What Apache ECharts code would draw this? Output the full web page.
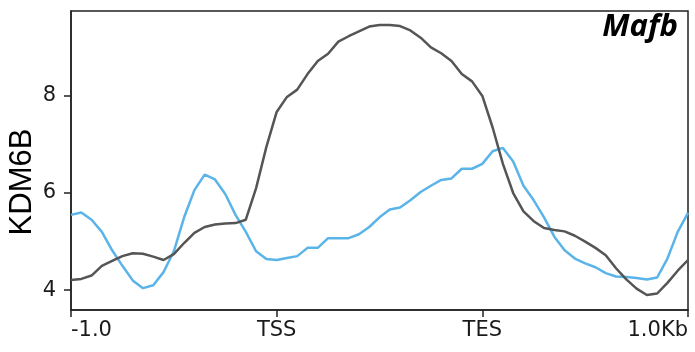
<!DOCTYPE html>
<html>
<head>
<meta charset="utf-8">
<script src="https://cdn.jsdelivr.net/npm/echarts@6/dist/echarts.min.js"></script>
<style>html,body{margin:0;padding:0;background:#fff;}#c{width:695px;height:352px;}</style>
</head>
<body>
<div id="c"></div>
<script>
// Positions along the meta-gene (0 = -1.0Kb, 1 = TSS, 2 = TES, 3 = +1.0Kb)
const positions = [0,0.05,0.1,0.15,0.2,0.25,0.3,0.35,0.4,0.45,0.5,0.55,0.6,0.65,0.7,0.75,0.8,0.85,0.9,0.95,1,1.05,1.1,1.15,1.2,1.25,1.3,1.35,1.4,1.45,1.5,1.55,1.6,1.65,1.7,1.75,1.8,1.85,1.9,1.95,2,2.05,2.1,2.15,2.2,2.25,2.3,2.35,2.4,2.45,2.5,2.55,2.6,2.65,2.7,2.75,2.8,2.85,2.9,2.95,3];
const grayValues = [4.21,4.23,4.30,4.50,4.60,4.70,4.76,4.75,4.69,4.62,4.74,4.97,5.18,5.30,5.35,5.37,5.38,5.45,6.10,6.95,7.67,7.98,8.13,8.45,8.72,8.87,9.12,9.23,9.33,9.43,9.46,9.46,9.44,9.35,9.20,9.00,8.88,8.72,8.45,8.30,8.00,7.35,6.60,6.00,5.62,5.42,5.28,5.24,5.21,5.12,5.00,4.87,4.72,4.45,4.22,4.03,3.90,3.93,4.15,4.40,4.62];
const blueValues = [5.55,5.60,5.45,5.20,4.82,4.50,4.20,4.04,4.10,4.37,4.80,5.50,6.06,6.38,6.28,5.98,5.55,5.20,4.80,4.64,4.62,4.66,4.70,4.87,4.87,5.07,5.07,5.07,5.15,5.30,5.50,5.66,5.70,5.85,6.02,6.15,6.27,6.30,6.50,6.50,6.60,6.86,6.93,6.65,6.15,5.85,5.50,5.10,4.82,4.65,4.55,4.47,4.35,4.28,4.27,4.25,4.22,4.26,4.65,5.20,5.59];
const xTickLabels = ['-1.0','TSS','TES','1.0Kb'];
const yTickValues = [4,6,8];
const yLabel = 'KDM6B';
const titleText = 'Mafb';

const chart = echarts.init(document.getElementById('c'), null, {renderer:'canvas'});
const pairs = vals => positions.map((p,i)=>[p, vals[i]]);
chart.setOption({
  animation:false,
  backgroundColor:'#ffffff',
  title:{text:titleText, right:12, top:7, textStyle:{fontFamily:'Open Sans', fontStyle:'italic', fontWeight:'bold', fontSize:31, color:'#000'}},
  graphic:[{type:'text', x:22.5, y:182, rotation:Math.PI/2,
    style:{text:yLabel, fontFamily:'Liberation Sans', fontSize:31, fill:'#000', align:'center', verticalAlign:'middle'}}],
  grid:{left:71, right:7, top:11, bottom:42, outerBoundsMode:'none', containLabel:false, show:true, borderColor:'#222', borderWidth:1.5, backgroundColor:'transparent'},
  xAxis:{type:'value', min:0, max:3, interval:1,
    axisLine:{show:true, lineStyle:{color:'#222', width:1.5}},
    axisTick:{show:true, length:7, lineStyle:{color:'#222', width:1.5}},
    splitLine:{show:false},
    axisLabel:{margin:10, color:'#1a1a1a', fontFamily:'DejaVu Sans', fontSize:21,
      alignMinLabel:'left', alignMaxLabel:'right',
      formatter:v=>xTickLabels[Math.round(v)]}
  },
  yAxis:{type:'value', min:3.59, max:9.75,
    axisLine:{show:true, lineStyle:{color:'#222', width:1.5}},
    axisTick:{show:true, length:7, customValues:yTickValues, lineStyle:{color:'#222', width:1.5}},
    splitLine:{show:false},
    axisLabel:{margin:15, color:'#1a1a1a', fontFamily:'DejaVu Sans', fontSize:21, customValues:yTickValues}
  },
  series:[
    {type:'line', data:pairs(blueValues), showSymbol:false, smooth:false, lineStyle:{color:'#5ab4e8', width:2.5}, z:2},
    {type:'line', data:pairs(grayValues), showSymbol:false, smooth:false, lineStyle:{color:'#555555', width:2.5}, z:3}
  ]
});
</script>
</body>
</html>
